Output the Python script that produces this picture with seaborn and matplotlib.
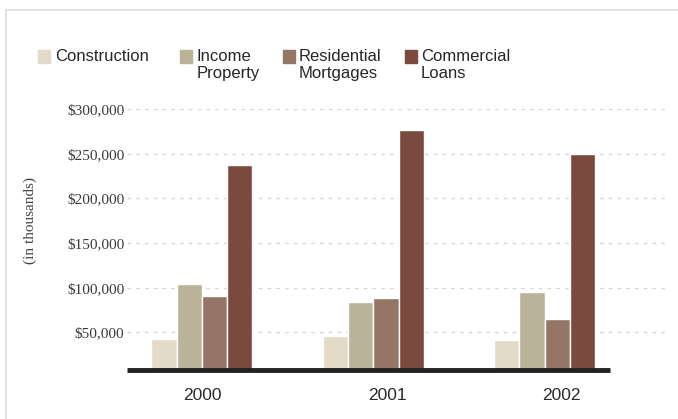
import pandas as pd
import seaborn as sns
import matplotlib.pyplot as plt
from matplotlib.patches import Rectangle
from matplotlib.ticker import FuncFormatter

# values (in thousands of dollars)
years = ['2000', '2001', '2002']
categories = ['Construction', 'Income\nProperty', 'Residential\nMortgages', 'Commercial\nLoans']
construction = [43000, 46000, 42000]
income_property = [104000, 84000, 95000]
residential = [91000, 88000, 65000]
commercial = [237000, 276000, 250000]
colors = ['#e4dac8', '#bbb29a', '#957565', '#7a4a3f']

data = pd.DataFrame({
    'year': years * 4,
    'type': [c for c in categories for _ in years],
    'amount': construction + income_property + residential + commercial,
})

sns.set_style('white')
plt.rcParams['font.family'] = ['Liberation Sans', 'DejaVu Sans']
serif = ['Liberation Serif', 'DejaVu Serif']

fig = plt.figure(figsize=(6.78, 4.19), dpi=100)
# axes from the $300,000 line (y=109) down to the black base line (y=370)
ax = fig.add_axes([127 / 678, 1 - 370 / 419, 541 / 678, 261 / 419])

sns.barplot(data=data, x='year', y='amount', hue='type', palette=colors,
            width=0.59, saturation=1, ax=ax, legend=False)

base = 8000
ax.set_ylim(base, 300000)
ax.set_xlim(-0.437, 2.72)
ax.set_yticks([50000, 100000, 150000, 200000, 250000, 300000])
ax.yaxis.set_major_formatter(FuncFormatter(lambda v, p: '$' + format(int(v), ',')))
for lab in ax.get_yticklabels():
    lab.set_family(serif)
    lab.set_fontsize(11)
    lab.set_color('#3a3a3a')
ax.tick_params(axis='y', length=0, pad=2)
# year labels sit a little right of the group centres in the original
ax.set_xticks([0, 1.08, 2.1], years)
ax.tick_params(axis='x', length=0, pad=13, labelsize=12.5)
for lab in ax.get_xticklabels():
    lab.set_color('#2a2a2a')

ax.yaxis.grid(True, linestyle=(0, (3, 4)), color='#d6d6d6', linewidth=0.9)
ax.set_axisbelow(True)
for s in ax.spines.values():
    s.set_visible(False)
ax.plot([-0.437, 2.38], [base, base], color='#222222', linewidth=3.5,
        solid_capstyle='butt', clip_on=False, zorder=5)

ax.set_xlabel('')
ax.set_ylabel('')
fig.text(30 / 678, 1 - 220 / 419, '(in thousands)', rotation=90, fontsize=11,
         family=serif, color='#444444', ha='center', va='center')

# legend: colour square next to each (one or two line) label
square_x = [38, 180, 283, 405]
text_x = [55, 197, 299, 421]
for name, col, sx, tx in zip(categories, colors, square_x, text_x):
    fig.patches.append(Rectangle((sx / 678, 1 - 63 / 419), 12 / 678, 13 / 419,
                                 transform=fig.transFigure, color=col))
    fig.text(tx / 678, 1 - 49 / 419, name, fontsize=12, color='#262626',
             ha='left', va='top', linespacing=1.15)

# light frame around the chart
fig.patches.append(Rectangle((6 / 678, -0.05), 1, 1.05 - 10 / 419, transform=fig.transFigure,
                             fill=False, edgecolor='#dddddd', linewidth=1.2))

fig.savefig('out.png', dpi=100)
